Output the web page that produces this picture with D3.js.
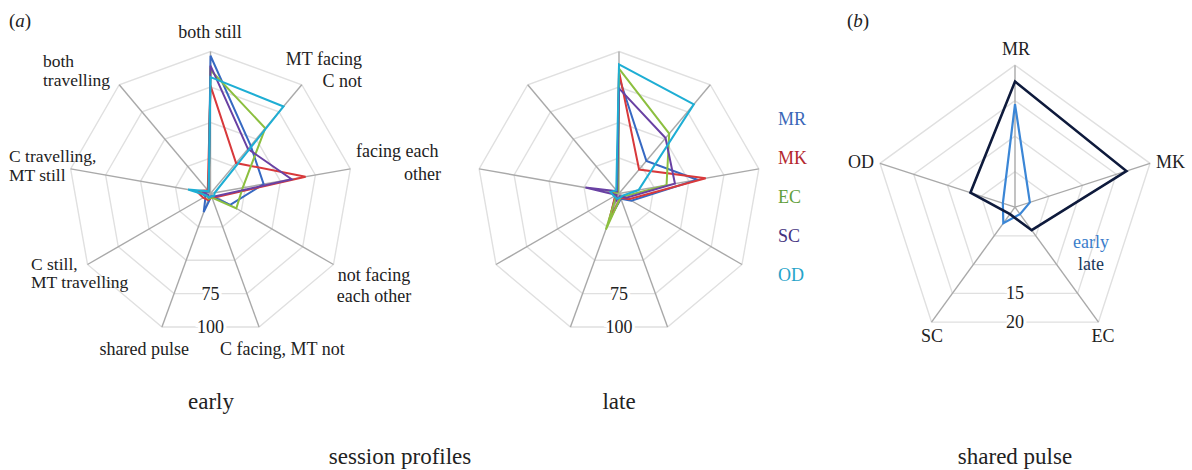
<!DOCTYPE html>
<html>
<head>
<meta charset="utf-8">
<script src="https://cdn.jsdelivr.net/npm/d3@7"></script>
<style>
  body { margin: 0; background: #fff; }
  svg { display: block; }
  svg text { font-family: "Liberation Serif", "DejaVu Serif", "Noto Serif", serif; }
</style>
</head>
<body>
<svg id="chart" width="1192" height="470"></svg>
<script>
// session profile axes, clockwise from the top
const sessionAxes = ["both still", "MT facing C not", "facing each other", "not facing each other",
  "C facing, MT not", "shared pulse", "C still, MT travelling", "C travelling, MT still", "both travelling"]
const sessionTicks = [25, 50, 75, 100]
const sessionTickLabels = ["75", "100"]

const dyads = ["MR", "MK", "EC", "SC", "OD"]

// (a) early sessions
const earlyMR = [97, 44, 38, 16, 2, 14, 4, 8, 2]
const earlyMK = [76, 28, 68, 5, 3, 5, 6, 10, 3]
const earlyEC = [87, 60, 23, 21, 3, 4, 3, 6, 2]
const earlySC = [90, 41, 58, 4, 2, 3, 2, 5, 2]
const earlyOD = [82, 80, 3, 3, 2, 3, 3, 16, 2]

// (a) late sessions
const lateMR = [82, 30, 56, 10, 4, 18, 3, 4, 2]
const lateMK = [86, 22, 62, 8, 3, 21, 3, 5, 2]
const lateEC = [88, 55, 34, 4, 3, 27, 2, 3, 1]
const lateSC = [74, 51, 40, 6, 2, 5, 2, 24, 2]
const lateOD = [91, 82, 14, 3, 3, 4, 4, 6, 3]

// (b) shared pulse per dyad
const pulseAxes = ["MR", "MK", "EC", "SC", "OD"]
const pulseTicks = [5, 10, 15, 20]
const pulseTickLabels = ["15", "20"]
const pulseEarly = [14.5, 2.2, 1.2, 2.8, 1.8]
const pulseLate = [17.7, 16.5, 4.0, 1.2, 6.6]

const lineColors = { MR: "#3769c2", MK: "#d8393b", EC: "#8cbf3f", SC: "#6941a3", OD: "#1eaed4" }
const legendColors = { MR: "#3a67b8", MK: "#b4282e", EC: "#62a03c", SC: "#44337f", OD: "#25a3c9" }

const svg = d3.select("#chart")
const R = 142

function radar({ cx, cy, n, max, ticks, tickLabels, series }) {
  const g = svg.append("g").attr("transform", `translate(${cx},${cy})`)
  const r = d3.scaleLinear().domain([0, max]).range([0, R])
  const ang = i => i * 2 * Math.PI / n
  const idx = d3.range(n)

  const ring = t => d3.lineRadial()
    .angle(i => ang(i))
    .radius(() => r(t))
    .curve(d3.curveLinearClosed)(idx)

  // grid rings
  g.selectAll(".ring")
    .data(ticks)
    .join("path")
    .attr("d", t => ring(t))
    .attr("fill", "none")
    .attr("stroke", "#e0e0e0")
    .attr("stroke-width", 1.4)

  // spokes
  g.selectAll(".spoke")
    .data(idx)
    .join("line")
    .attr("x1", 0).attr("y1", 0)
    .attr("x2", i => r(max) * Math.sin(ang(i)))
    .attr("y2", i => -r(max) * Math.cos(ang(i)))
    .attr("stroke", "#a9a9a9")
    .attr("stroke-width", 1.4)

  // tick labels on the bottom edge
  const edge = Math.cos(Math.PI / n)
  const shown = ticks.slice(ticks.length - tickLabels.length)
  g.selectAll(".tick")
    .data(shown)
    .join("text")
    .attr("x", 0)
    .attr("y", (t) => r(t) * edge)
    .attr("dy", "0.33em")
    .attr("text-anchor", "middle")
    .attr("font-size", 18)
    .attr("fill", "#222")
    .attr("stroke", "#fff")
    .attr("stroke-width", 6)
    .attr("paint-order", "stroke")
    .text((t, i) => tickLabels[i])

  const line = d3.lineRadial()
    .angle((d, i) => ang(i))
    .radius(d => r(d))
    .curve(d3.curveLinearClosed)

  g.selectAll(".series")
    .data(series)
    .join("path")
    .attr("d", s => line(s.values))
    .attr("fill", "none")
    .attr("stroke", s => s.color)
    .attr("stroke-width", s => s.width || 2)
    .attr("stroke-linejoin", "miter")
  return g
}

radar({
  cx: 210.5, cy: 193.5, n: sessionAxes.length, max: 100,
  ticks: sessionTicks, tickLabels: sessionTickLabels,
  series: [earlyMR, earlyMK, earlyEC, earlySC, earlyOD].map((v, i) => ({ values: v, color: lineColors[dyads[i]] }))
})

radar({
  cx: 619, cy: 193.5, n: sessionAxes.length, max: 100,
  ticks: sessionTicks, tickLabels: sessionTickLabels,
  series: [lateMR, lateMK, lateEC, lateSC, lateOD].map((v, i) => ({ values: v, color: lineColors[dyads[i]] }))
})

radar({
  cx: 1015, cy: 207.2, n: pulseAxes.length, max: 20,
  ticks: pulseTicks, tickLabels: pulseTickLabels,
  series: [
    { values: pulseEarly, color: "#3b86d6", width: 2.2 },
    { values: pulseLate, color: "#0e1a3c", width: 2.6 }
  ]
})

// text helpers: one text element per line
function label(lines, x, y, anchor, size = 18, color = "#222", lead = 18) {
  lines.forEach((s, i) => {
    svg.append("text")
      .attr("x", x).attr("y", y + i * lead)
      .attr("text-anchor", anchor)
      .attr("font-size", size)
      .attr("fill", color)
      .text(s)
  })
}

// axis labels of the early chart
label(["both still"], 210, 38, "middle")
label(["MT facing", "C not"], 362, 65, "end", 18, "#222", 22)
label(["facing each"], 356, 157, "start")
label(["other"], 441, 180, "end")
label(["not facing", "each other"], 374, 281, "middle", 18, "#222", 21)
label(["C facing, MT not"], 220, 355, "start")
label(["shared pulse"], 189, 355, "end")
label(["C still,", "MT travelling"], 31, 270, "start", 17.5, "#222", 18)
label(["C travelling,", "MT still"], 9, 162, "start", 17.5, "#222", 18.5)
label(["both", "travelling"], 43, 67, "start", 17.5, "#222", 18.5)

// panel tags
function tag(letter, x) {
  const t = svg.append("text").attr("x", x).attr("y", 27).attr("font-size", 19).attr("fill", "#222")
  t.append("tspan").text("(")
  t.append("tspan").attr("font-style", "italic").text(letter)
  t.append("tspan").text(")")
}
tag("a", 9)
tag("b", 847)

// legend of dyads
svg.selectAll(".legend")
  .data(dyads)
  .join("text")
  .attr("x", 778)
  .attr("y", (d, i) => 125 + i * 39.1)
  .attr("font-size", 18)
  .attr("fill", d => legendColors[d])
  .text(d => d)

// pulse axis labels
label(["MR"], 1016, 55, "middle")
label(["MK"], 1156, 168, "start")
label(["OD"], 874, 168, "end")
label(["SC"], 932, 342, "middle")
label(["EC"], 1103, 342, "middle")
label(["early"], 1091, 248, "middle", 18, "#3b7ecb")
label(["late"], 1091, 270, "middle", 18, "#17365a")

// captions
label(["early"], 211, 409, "middle", 23)
label(["late"], 619, 409, "middle", 23)
label(["session profiles"], 400, 464, "middle", 23)
label(["shared pulse"], 1015, 464, "middle", 23)
</script>
</body>
</html>
